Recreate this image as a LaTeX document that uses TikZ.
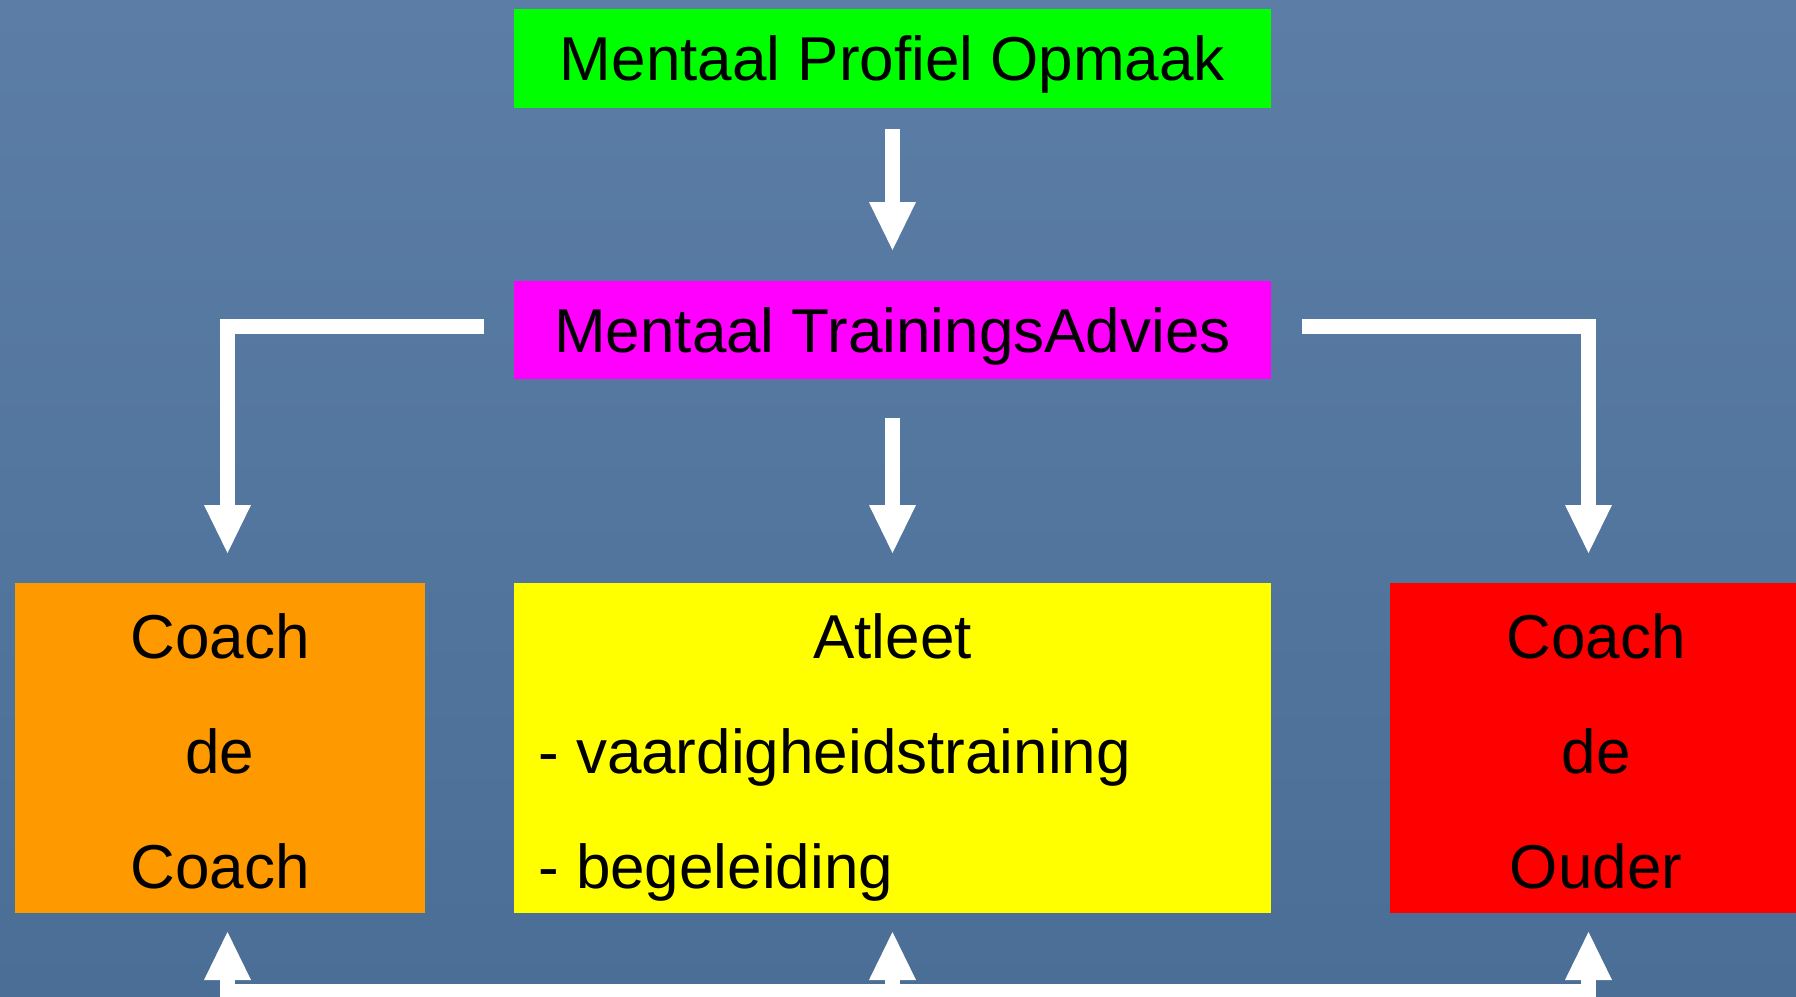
\documentclass[tikz,border=0pt]{standalone}
\usepackage{fontspec}
\setmainfont{Liberation Sans}
\usetikzlibrary{arrows.meta}
\definecolor{bgtop}{RGB}{92,126,166}
\definecolor{bgmid}{RGB}{88,121,161}
\definecolor{bgbot}{RGB}{74,110,150}
\definecolor{boxgreen}{RGB}{0,255,0}
\definecolor{boxmag}{RGB}{255,0,255}
\definecolor{boxorange}{RGB}{255,153,0}
\definecolor{boxyellow}{RGB}{255,255,0}
\definecolor{boxred}{RGB}{255,0,0}
\begin{document}
\begin{tikzpicture}[x=1pt,y=-1pt,
  box/.style={draw=none, inner sep=0pt, outer sep=0pt, anchor=north west},
  bigfont/.style={font=\fontsize{62pt}{74pt}\selectfont},
  title/.style={box, bigfont, text height=44pt, text depth=0pt, minimum width=757pt},
  txt/.style={bigfont, inner sep=0pt, text=black},
  shaft/.style={draw=white, line width=15pt},
  arr/.style={shaft, -{Triangle[width=47pt,length=48pt,line width=0pt]}}
]
\useasboundingbox (0,0) rectangle (1796,996);
\clip (0,0) rectangle (1796,996);
\shade[top color=bgtop, middle color=bgmid, bottom color=bgbot] (0,0) rectangle (1796,996);

% boxes
\node[title, fill=boxgreen, minimum height=99pt] (mpo) at (514,9) {Mentaal Profiel Opmaak};
\node[title, fill=boxmag, minimum height=98pt] (mta) at (514,281) {Mentaal TrainingsAdvies};
\node[box, fill=boxorange, minimum width=410pt, minimum height=330pt] (cdc) at (15,583) {};
\node[box, fill=boxyellow, minimum width=757pt, minimum height=330pt] (atl) at (514,583) {};
\node[box, fill=boxred, minimum width=420pt, minimum height=330pt] (cdo) at (1390,583) {};

% texts in the lower boxes
\node[txt, anchor=base] (cdc1) at (220,658) {Coach};
\node[txt, anchor=base] (cdc2) at (220,773) {de};
\node[txt, anchor=base] (cdc3) at (220,888) {Coach};
\node[txt, anchor=base] (atl1) at (892.5,658) {Atleet};
\node[txt, anchor=base west] (atl2) at (538,773) {-\ vaardigheidstraining};
\node[txt, anchor=base west] (atl3) at (538,888) {-\ begeleiding};
\node[txt, anchor=base] (cdo1) at (1596,658) {Coach};
\node[txt, anchor=base] (cdo2) at (1596,773) {de};
\node[txt, anchor=base] (cdo3) at (1596,888) {Ouder};

% connector ends
\coordinate (lt) at (227.5,553);
\coordinate (rt) at (1588.5,553);
\coordinate (bl) at (227.5,991.5);
\coordinate (bm) at (892.5,991.5);
\coordinate (br) at (1588.5,991.5);
\coordinate (blt) at (227.5,932);
\coordinate (bmt) at (892.5,932);
\coordinate (brt) at (1588.5,932);

% arrows
\draw[arr] ([yshift=-21pt]mpo.south) -- ([yshift=31pt]mta.north);
\draw[arr] ([yshift=-39pt]mta.south) -- ([yshift=30pt]atl.north);
\draw[arr] ([xshift=-30pt,yshift=4pt]mta.west) -| (lt);
\draw[arr] ([xshift=31pt,yshift=4pt]mta.east) -| (rt);

% bottom feedback bar
\draw[shaft] (bl) -- (br);
\draw[arr] ([yshift=-8pt]bl) -- (blt);
\draw[arr] ([yshift=-8pt]bm) -- (bmt);
\draw[arr] ([yshift=-8pt]br) -- (brt);
\end{tikzpicture}
\end{document}
